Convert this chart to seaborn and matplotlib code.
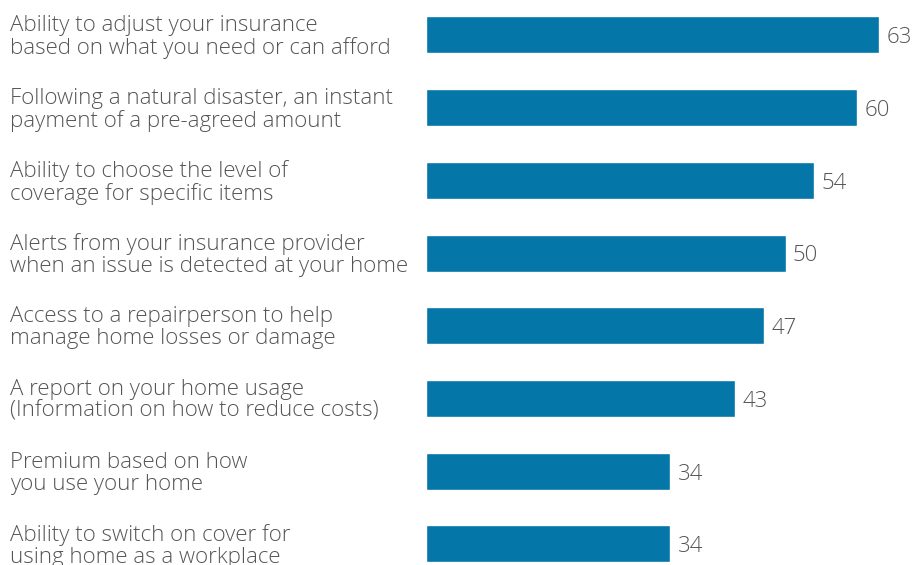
import matplotlib
matplotlib.use("Agg")
import matplotlib.pyplot as plt
import seaborn as sns
import pandas as pd

features = [
    "Ability to adjust your insurance\nbased on what you need or can afford",
    "Following a natural disaster, an instant\npayment of a pre-agreed amount",
    "Ability to choose the level of\ncoverage for specific items",
    "Alerts from your insurance provider\nwhen an issue is detected at your home",
    "Access to a repairperson to help\nmanage home losses or damage",
    "A report on your home usage\n(Information on how to reduce costs)",
    "Premium based on how\nyou use your home",
    "Ability to switch on cover for\nusing home as a workplace",
]
shares = [63, 60, 54, 50, 47, 43, 34, 34]

df = pd.DataFrame({"feature": features, "share": shares})

sns.set_style("white")
plt.rcParams["font.family"] = ["Open Sans", "DejaVu Sans"]

BAR = "#0576a8"
TXT = "#555555"

fig = plt.figure(figsize=(9.13, 5.65), dpi=100)
ax = fig.add_axes([426 / 913, 0, 487 / 913, 1])

sns.barplot(data=df, y="feature", x="share", orient="h", color=BAR,
            saturation=1, width=0.51, ax=ax)

ax.set_xlim(0, 487 / 7.19)
ax.set_ylim(7.29, -0.48)
ax.axis("off")

for i, (lab, v) in enumerate(zip(features, shares)):
    ax.text(v + 1.0, i + 0.04, str(v), va="center", ha="left", fontsize=16,
            color=TXT, fontweight="light")
    fig.text(10 / 913, 1 - (37 + 72.7 * i) / 565, lab, va="center", ha="left",
             fontsize=16, color=TXT, fontweight="light", linespacing=1.04)

fig.savefig("out.png", dpi=100)
